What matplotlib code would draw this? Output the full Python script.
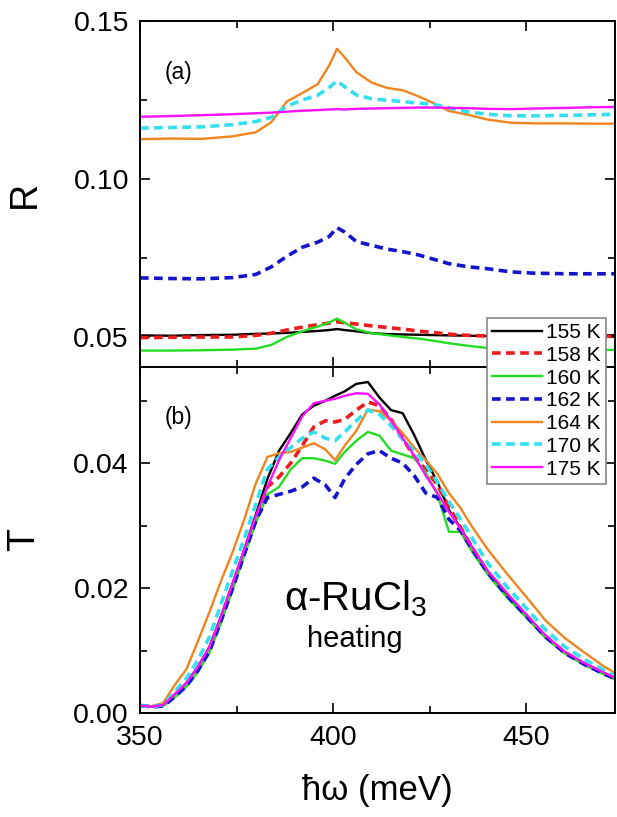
import matplotlib
matplotlib.use('Agg')
from matplotlib import pyplot as plt
from matplotlib.ticker import MultipleLocator

plt.rcParams['font.family'] = ['Liberation Sans', 'DejaVu Sans']
plt.rcParams['mathtext.fontset'] = 'custom'
plt.rcParams['mathtext.rm'] = 'Liberation Sans'

# temperatures and line styles per curve
temps = ['155 K', '158 K', '160 K', '162 K', '164 K', '170 K', '175 K']
colors = ['#000000', '#ee1c1c', '#22dd22', '#1414cc', '#f0841e', '#33e0ee', '#ff10ff']
dashed = [False, True, False, True, False, True, False]

# (a) reflectance
e_r = [350, 358, 366, 374, 380, 384, 388, 392, 396, 399, 401, 403, 406,
       410, 414, 418, 422, 426, 430, 435, 440, 446, 452, 460, 467, 473]
r155 = [0.0505, 0.0504, 0.0506, 0.0507, 0.0510, 0.0511, 0.0513, 0.0516, 0.0519,
        0.0522, 0.0525, 0.0522, 0.0518, 0.0512, 0.0509, 0.0508, 0.0507, 0.0506,
        0.0505, 0.0504, 0.0503, 0.0503, 0.0504, 0.0505, 0.0505, 0.0506]
r158 = [0.0498, 0.0499, 0.0500, 0.0500, 0.0505, 0.0512, 0.0522, 0.0531, 0.0539,
        0.0544, 0.0548, 0.0545, 0.0541, 0.0535, 0.0530, 0.0525, 0.0519, 0.0514,
        0.0509, 0.0505, 0.0503, 0.0502, 0.0502, 0.0502, 0.0502, 0.0502]
r160 = [0.0457, 0.0457, 0.0458, 0.0460, 0.0463, 0.0475, 0.0500, 0.0518, 0.0533,
        0.0546, 0.0558, 0.0545, 0.0524, 0.0512, 0.0506, 0.0500, 0.0495, 0.0488,
        0.0480, 0.0472, 0.0465, 0.0462, 0.0461, 0.0460, 0.0459, 0.0459]
r162 = [0.0687, 0.0685, 0.0684, 0.0688, 0.0698, 0.0722, 0.0755, 0.0784, 0.0800,
        0.0818, 0.0846, 0.0832, 0.0802, 0.0790, 0.0778, 0.0770, 0.0760, 0.0746,
        0.0732, 0.0722, 0.0716, 0.0706, 0.0702, 0.0700, 0.0700, 0.0700]
r164 = [0.1126, 0.1128, 0.1127, 0.1135, 0.1148, 0.1180, 0.1245, 0.1272, 0.1300,
        0.1360, 0.1412, 0.1385, 0.1338, 0.1305, 0.1288, 0.1281, 0.1262, 0.1240,
        0.1215, 0.1203, 0.1188, 0.1178, 0.1176, 0.1176, 0.1175, 0.1175]
r170 = [0.1161, 0.1163, 0.1165, 0.1172, 0.1182, 0.1195, 0.1230, 0.1250, 0.1265,
        0.1290, 0.1310, 0.1292, 0.1266, 0.1254, 0.1249, 0.1245, 0.1240, 0.1236,
        0.1225, 0.1212, 0.1205, 0.1200, 0.1200, 0.1201, 0.1203, 0.1205]
r175 = [0.1197, 0.1199, 0.1202, 0.1205, 0.1208, 0.1210, 0.1213, 0.1216, 0.1218,
        0.1220, 0.1221, 0.1220, 0.1222, 0.1223, 0.1224, 0.1225, 0.1226, 0.1226,
        0.1225, 0.1224, 0.1222, 0.1221, 0.1223, 0.1225, 0.1227, 0.1228]

# (b) transmittance
e_t = [350, 353, 356, 359, 362, 365, 368, 371, 374, 377, 380, 383, 386, 389,
       392, 395, 398, 400.5, 403, 406, 409, 412, 415, 418, 421, 424, 427, 430,
       433, 436, 440, 445, 450, 455, 460, 465, 470, 473]
t155 = [0.0012, 0.0010, 0.0013, 0.0030, 0.0048, 0.0074, 0.0106, 0.0155, 0.0208,
        0.0262, 0.0318, 0.0375, 0.0420, 0.0448, 0.0478, 0.0492, 0.0500, 0.0508,
        0.0515, 0.0527, 0.0530, 0.0505, 0.0485, 0.0480, 0.0445, 0.0405, 0.0370,
        0.0325, 0.0296, 0.0265, 0.0226, 0.0188, 0.0156, 0.0122, 0.0097, 0.0079,
        0.0064, 0.0055]
t158 = [0.0012, 0.0010, 0.0012, 0.0028, 0.0046, 0.0071, 0.0103, 0.0152, 0.0205,
        0.0258, 0.0312, 0.0362, 0.0378, 0.0400, 0.0428, 0.0458, 0.0468, 0.0466,
        0.0470, 0.0485, 0.0498, 0.0492, 0.0470, 0.0440, 0.0410, 0.0390, 0.0365,
        0.0330, 0.0297, 0.0265, 0.0226, 0.0189, 0.0156, 0.0123, 0.0097, 0.0079,
        0.0064, 0.0055]
t160 = [0.0012, 0.0010, 0.0011, 0.0025, 0.0042, 0.0066, 0.0097, 0.0145, 0.0198,
        0.0252, 0.0305, 0.0350, 0.0362, 0.0390, 0.0408, 0.0408, 0.0404, 0.0399,
        0.0418, 0.0436, 0.0450, 0.0444, 0.0420, 0.0414, 0.0408, 0.0385, 0.0350,
        0.0290, 0.0290, 0.0258, 0.0222, 0.0185, 0.0153, 0.0120, 0.0095, 0.0077,
        0.0062, 0.0054]
t162 = [0.0012, 0.0010, 0.0011, 0.0026, 0.0043, 0.0068, 0.0099, 0.0148, 0.0200,
        0.0254, 0.0308, 0.0345, 0.0350, 0.0355, 0.0362, 0.0376, 0.0365, 0.0345,
        0.0375, 0.0398, 0.0415, 0.0420, 0.0408, 0.0400, 0.0380, 0.0352, 0.0345,
        0.0310, 0.0292, 0.0262, 0.0225, 0.0188, 0.0155, 0.0122, 0.0096, 0.0078,
        0.0063, 0.0055]
t164 = [0.0012, 0.0011, 0.0016, 0.0045, 0.0070, 0.0115, 0.0162, 0.0212, 0.0258,
        0.0310, 0.0368, 0.0410, 0.0416, 0.0418, 0.0425, 0.0432, 0.0422, 0.0405,
        0.0428, 0.0452, 0.0486, 0.0483, 0.0468, 0.0448, 0.0425, 0.0405, 0.0383,
        0.0352, 0.0328, 0.0298, 0.0262, 0.0223, 0.0186, 0.0148, 0.0120, 0.0097,
        0.0075, 0.0064]
t170 = [0.0012, 0.0010, 0.0013, 0.0034, 0.0055, 0.0085, 0.0122, 0.0175, 0.0228,
        0.0280, 0.0335, 0.0390, 0.0410, 0.0425, 0.0440, 0.0450, 0.0440, 0.0436,
        0.0450, 0.0468, 0.0485, 0.0478, 0.0460, 0.0438, 0.0420, 0.0398, 0.0370,
        0.0338, 0.0310, 0.0280, 0.0240, 0.0202, 0.0168, 0.0133, 0.0106, 0.0086,
        0.0069, 0.0059]
t175 = [0.0012, 0.0010, 0.0013, 0.0030, 0.0048, 0.0074, 0.0106, 0.0155, 0.0208,
        0.0262, 0.0315, 0.0362, 0.0405, 0.0440, 0.0475, 0.0496, 0.0500, 0.0503,
        0.0508, 0.0512, 0.0511, 0.0494, 0.0468, 0.0440, 0.0412, 0.0380, 0.0352,
        0.0322, 0.0295, 0.0265, 0.0228, 0.0192, 0.0158, 0.0124, 0.0098, 0.0080,
        0.0065, 0.0056]

r_all = [r155, r158, r160, r162, r164, r170, r175]
t_all = [t155, t158, t160, t162, t164, t170, t175]


def style(i):
    if dashed[i]:
        return dict(color=colors[i], lw=2.6, linestyle=(0, (2.4, 1.5)))
    return dict(color=colors[i], lw=1.7, linestyle='-')


fig = plt.figure(figsize=(6.17, 8.17), dpi=100)
ax_r = fig.add_axes([0.2269, 0.5508, 0.770, 0.4235])
ax_t = fig.add_axes([0.2269, 0.1273, 0.770, 0.4235])

handles = []
for i in range(len(temps)):
    ax_r.plot(e_r, r_all[i], **style(i))
    h, = ax_t.plot(e_t, t_all[i], label=temps[i], **style(i))
    handles.append(h)

for ax in (ax_r, ax_t):
    ax.set_xlim(350, 473)
    ax.xaxis.set_major_locator(MultipleLocator(50))
    ax.xaxis.set_minor_locator(MultipleLocator(25))
    ax.tick_params(which='both', direction='in', top=True, right=True,
                   labelsize=20.5, width=1.2)
    ax.tick_params(which='major', length=7)
    ax.tick_params(which='minor', length=5)
    ax.tick_params(axis='y', pad=8)
    ax.tick_params(axis='x', pad=9)
    for s in ax.spines.values():
        s.set_linewidth(1.4)

ax_r.set_ylim(0.0405, 0.15)
ax_r.yaxis.set_major_locator(MultipleLocator(0.05))
ax_r.yaxis.set_minor_locator(MultipleLocator(0.025))
ax_r.yaxis.set_major_formatter(plt.FormatStrFormatter('%.2f'))
ax_r.tick_params(labelbottom=False)
ax_r.set_ylabel('R', fontsize=27)
ax_r.yaxis.set_label_coords(-0.205, 0.5)
ax_r.text(0.082, 0.85, '(a)', transform=ax_r.transAxes, fontsize=16.5,
          ha='center', va='center')

ax_t.set_ylim(0, 0.0554)
ax_t.yaxis.set_major_locator(MultipleLocator(0.02))
ax_t.yaxis.set_minor_locator(MultipleLocator(0.01))
ax_t.yaxis.set_major_formatter(plt.FormatStrFormatter('%.2f'))
ax_t.set_ylabel('T', fontsize=27)
ax_t.yaxis.set_label_coords(-0.205, 0.5)
ax_t.set_xlabel('ħω (meV)', fontsize=25, labelpad=16)
ax_t.text(0.082, 0.853, '(b)', transform=ax_t.transAxes, fontsize=16.5,
          ha='center', va='center')
ax_t.text(0.453, 0.33, 'α-RuCl$_3$', transform=ax_t.transAxes,
          fontsize=29, ha='center', va='center')
ax_t.text(0.453, 0.215, 'heating', transform=ax_t.transAxes,
          fontsize=21, ha='center', va='center')

# legend spans both panels
leg = fig.legend(handles=handles, loc='upper left',
                 bbox_to_anchor=(0.789, 0.611), fontsize=15,
                 frameon=True, fancybox=False, framealpha=1,
                 edgecolor='#888888', handlelength=2.4, handletextpad=0.2,
                 labelspacing=0.18, borderpad=0.25, borderaxespad=0)
leg.get_frame().set_linewidth(1.2)

fig.savefig('out.png', dpi=100)
